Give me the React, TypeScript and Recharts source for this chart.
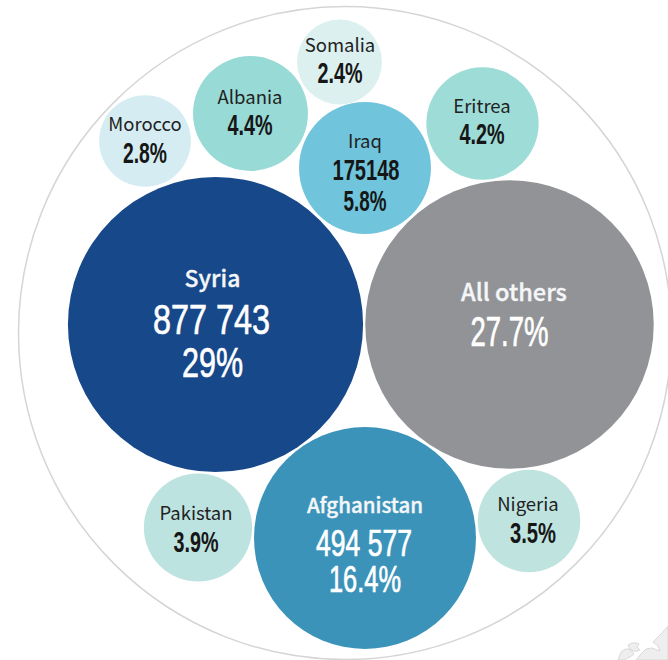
import { ScatterChart, Scatter, XAxis, YAxis, ZAxis, ReferenceDot } from "recharts";

const countries = ["Syria", "All others", "Afghanistan", "Iraq", "Eritrea", "Albania", "Somalia", "Morocco", "Pakistan", "Nigeria"];
const shares = [29, 27.7, 16.4, 5.8, 4.2, 4.4, 2.4, 2.8, 3.9, 3.5];
const shareLabels = ["29%", "27.7%", "16.4%", "5.8%", "4.2%", "4.4%", "2.4%", "2.8%", "3.9%", "3.5%"];
const countLabels = ["877 743", "", "494 577", "175148", "", "", "", "", "", ""];
const packX = [215.5, 509.5, 365, 365, 482.5, 250.5, 339.5, 145, 198, 529];
const packY = [324.5, 324.5, 538, 168, 123.5, 113.5, 62, 141, 527.5, 521];
const fills = ["#17488a", "#929396", "#3c93b9", "#70c5dc", "#9ddcd7", "#97dad6", "#dcf0ef", "#d5edf2", "#bde3e0", "#bfe4df"];

const tableData = countries.map((name, i) => ({
    name,
    x: packX[i],
    y: packY[i],
    share: shares[i],
    shareLabel: shareLabels[i],
    countLabel: countLabels[i],
    fill: fills[i],
}));

// label tweaks per bubble: name baseline, then number baselines, offsets from centre
const labelLayout: Record<string, any> = {
    "Syria": { nameDx: -3, nameY: -38, nameSize: 23, dark: false, countDx: -4, countY: 9.5, countW: 117, shareDx: -3, shareY: 52.5, shareW: 61, numSize: 43 },
    "All others": { nameDx: 4.5, nameY: -23.5, nameSize: 23.5, dark: false, shareDx: 0, shareY: 21.5, shareW: 78, numSize: 42 },
    "Afghanistan": { nameDx: 0, nameY: -25, nameSize: 20.5, dark: false, countDx: -1, countY: 18, countW: 96, shareDx: 0, shareY: 54, shareW: 72, numSize: 36 },
    "Iraq": { nameDx: 0, nameY: -20, nameSize: 18.5, dark: true, countDx: 1, countY: 12, countW: 67, shareDx: 0, shareY: 43, shareW: 43, numSize: 29 },
    "Eritrea": { nameDx: -0.5, nameY: -10.5, nameSize: 18.5, dark: true, shareDx: -0.5, shareY: 20.5, shareW: 45, numSize: 29 },
    "Albania": { nameDx: -0.5, nameY: -9.5, nameSize: 18.5, dark: true, shareDx: -0.5, shareY: 21.5, shareW: 45, numSize: 29 },
    "Somalia": { nameDx: 0.5, nameY: -10, nameSize: 18.5, dark: true, shareDx: 0.5, shareY: 21, shareW: 45, numSize: 29 },
    "Morocco": { nameDx: 0, nameY: -10, nameSize: 18.5, dark: true, shareDx: 0, shareY: 22, shareW: 44, numSize: 29 },
    "Pakistan": { nameDx: -2, nameY: -7.5, nameSize: 18.5, dark: true, shareDx: -2, shareY: 24.5, shareW: 45, numSize: 29 },
    "Nigeria": { nameDx: -1, nameY: -10, nameSize: 18.5, dark: true, shareDx: 4, shareY: 22, shareW: 46, numSize: 29 },
};

const NAME_FONT = '"Noto Sans CJK SC", "Noto Sans", sans-serif';
const NUM_FONT = '"Liberation Sans Narrow", "Liberation Sans", sans-serif';

function Bubble(props: any) {
    const { cx, cy, width, payload } = props;
    const l = labelLayout[payload.name];
    const color = l.dark ? "#161616" : "#ffffff";
    const numProps = {
        textAnchor: "middle" as const,
        fontFamily: NUM_FONT,
        fontWeight: l.dark ? 700 : 400,
        fontSize: l.numSize,
        fill: color,
        stroke: l.dark ? "none" : color,
        strokeWidth: l.dark ? 0 : 0.7,
        lengthAdjust: "spacingAndGlyphs" as const,
    };
    const nameFill = l.dark ? "#222222" : "#f4f6f8";

    return (
        <g>
            <circle cx={cx} cy={cy} r={width / 2} fill={payload.fill} />
            <text
                x={cx + l.nameDx}
                y={cy + l.nameY}
                textAnchor="middle"
                fontFamily={NAME_FONT}
                fontSize={l.nameSize}
                fontWeight={l.dark ? 400 : 500}
                fill={nameFill}
                stroke={l.dark ? "none" : nameFill}
                strokeWidth={l.dark ? 0 : 0.35}
            >
                {payload.name}
            </text>
            {payload.countLabel && (
                <text x={cx + l.countDx} y={cy + l.countY} textLength={l.countW} {...numProps}>
                    {payload.countLabel}
                </text>
            )}
            <text x={cx + l.shareDx} y={cy + l.shareY} textLength={l.shareW} {...numProps}>
                {payload.shareLabel}
            </text>
        </g>
    );
}

export default function App() {
    return (
        <div style={{ position: "absolute", left: 0, top: 0, width: 668, height: 660, background: "#fff" }}>
            <ScatterChart width={668} height={660} margin={{ top: 0, right: 0, bottom: 0, left: 0 }}>
                <XAxis type="number" dataKey="x" domain={[0, 668]} hide />
                <YAxis type="number" dataKey="y" domain={[0, 660]} reversed hide />
                <ZAxis type="number" dataKey="share" domain={[0, 100]} range={[0, 235933]} />
                <ReferenceDot x={345} y={333} r={326.5} fill="none" stroke="#d5d5d5" strokeWidth={1.5} />
                <Scatter data={tableData} isAnimationActive={false} shape={Bubble} />
                {/* faint bit of map in the corner */}
                <path
                    d="M668 626 L660 635 L653 642 L658 646 L660 651 L652 648 L646 649 L641 654 L636 660 L668 660 Z M628 645 Q634 641 639 644 L637 647 L640 650 Q634 653 630 649 Z M621 652 Q626 647 631 650 L634 654 L630 657 L624 660 L618 660 Z"
                    fill="#eeeeee"
                    stroke="#d9d9d9"
                    strokeWidth={1}
                />
            </ScatterChart>
        </div>
    );
}
